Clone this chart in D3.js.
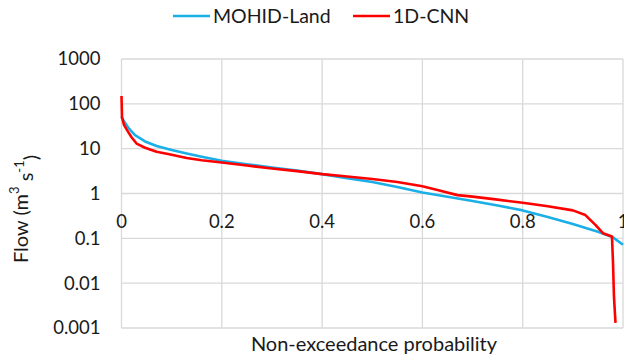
<!DOCTYPE html>
<html>
<head>
<meta charset="utf-8">
<script src="https://cdnjs.cloudflare.com/ajax/libs/d3/7.8.5/d3.min.js"></script>
<style>
  body { margin: 0; background: #fff; }
  svg { display: block; font-family: Lato, "Open Sans", sans-serif; }
</style>
</head>
<body>
<div id="chart"></div>
<script>
// flow duration curves
const seriesNames = ["MOHID-Land", "1D-CNN"];
const seriesColors = ["#1aafe6", "#ff0000"];

const mohidP = [0, 0.003, 0.007, 0.015, 0.027, 0.047, 0.07, 0.1, 0.13, 0.16, 0.2, 0.25, 0.3, 0.35, 0.4, 0.45, 0.5, 0.55, 0.6, 0.65, 0.7, 0.75, 0.8, 0.85, 0.9, 0.95, 0.98, 1.0];
const mohidQ = [52, 44, 38, 28, 20, 14.5, 11.5, 9.3, 7.8, 6.6, 5.4, 4.5, 3.8, 3.25, 2.7, 2.2, 1.8, 1.4, 1.05, 0.85, 0.68, 0.54, 0.42, 0.3, 0.21, 0.14, 0.105, 0.072];

const cnnP = [0, 0.001, 0.005, 0.012, 0.02, 0.03, 0.047, 0.07, 0.1, 0.13, 0.16, 0.2, 0.25, 0.3, 0.35, 0.4, 0.45, 0.5, 0.55, 0.6, 0.63, 0.67, 0.7, 0.75, 0.8, 0.85, 0.9, 0.925, 0.945, 0.96, 0.978, 0.98, 0.982, 0.985];
const cnnQ = [150, 50, 34, 25, 18, 13, 10.5, 8.5, 7.3, 6.2, 5.5, 4.9, 4.2, 3.6, 3.15, 2.7, 2.4, 2.1, 1.8, 1.45, 1.2, 0.92, 0.85, 0.73, 0.62, 0.52, 0.42, 0.33, 0.2, 0.13, 0.11, 0.03, 0.005, 0.0013];

const xTicks = [0, 0.2, 0.4, 0.6, 0.8, 1];
const yTicks = [0.001, 0.01, 0.1, 1, 10, 100, 1000];

const W = 624, H = 357;
const margin = {top: 59, right: 1, bottom: 29, left: 121.5};
const width = W - margin.left - margin.right;
const height = H - margin.top - margin.bottom;

const svg = d3.select("#chart").append("svg")
  .attr("width", W)
  .attr("height", H);

const g = svg.append("g")
  .attr("transform", "translate(" + margin.left + "," + margin.top + ")");

const x = d3.scaleLinear().domain([0, 1]).range([0, width]);
const y = d3.scaleLog().domain([0.001, 1000]).range([height, 0]);

// gridlines
g.append("g").selectAll("line").data(yTicks).join("line")
  .attr("x1", 0).attr("x2", width)
  .attr("y1", d => y(d)).attr("y2", d => y(d))
  .attr("stroke", "#d9d9d9").attr("stroke-width", 1.3);

g.append("g").selectAll("line").data(xTicks).join("line")
  .attr("x1", d => x(d)).attr("x2", d => x(d))
  .attr("y1", 0).attr("y2", height)
  .attr("stroke", "#d9d9d9").attr("stroke-width", 1.3);

// y labels
g.append("g").selectAll("text").data(yTicks).join("text")
  .attr("x", -21)
  .attr("y", d => y(d))
  .attr("dy", "0.35em")
  .attr("text-anchor", "end")
  .attr("font-size", 18.5)
  .attr("fill", "#1a1a1a")
  .text(d => d3.format("~g")(d));

// x labels sit under the y=1 line (Excel crossing)
g.append("g").selectAll("text").data(xTicks).join("text")
  .attr("x", d => x(d))
  .attr("y", y(1) + 28)
  .attr("dy", "0.35em")
  .attr("text-anchor", "middle")
  .attr("font-size", 18.5)
  .attr("fill", "#1a1a1a")
  .text(d => d3.format("~g")(d));

// curves
const line = d3.line()
  .x(d => x(d.p))
  .y(d => y(d.q));

const mohid = mohidP.map((p, i) => ({p: p, q: mohidQ[i]}));
const cnn = cnnP.map((p, i) => ({p: p, q: cnnQ[i]}));

[mohid, cnn].forEach((data, i) => {
  g.append("path")
    .datum(data)
    .attr("fill", "none")
    .attr("stroke", seriesColors[i])
    .attr("stroke-width", 2.6)
    .attr("stroke-linejoin", "round")
    .attr("d", line);
});

// axis titles
svg.append("text")
  .attr("x", 374)
  .attr("y", 351)
  .attr("text-anchor", "middle")
  .attr("font-size", 20)
  .attr("fill", "#1a1a1a")
  .text("Non-exceedance probability");

const yt = svg.append("text")
  .attr("transform", "translate(21,209) rotate(-90)")
  .attr("dy", "0.35em")
  .attr("text-anchor", "middle")
  .attr("font-size", 20)
  .attr("fill", "#1a1a1a");
yt.append("tspan").text("Flow (m");
yt.append("tspan").attr("font-size", 13).attr("dy", "-0.7em").text("3");
yt.append("tspan").attr("dy", "0.7em").text(" s");
yt.append("tspan").attr("font-size", 13).attr("dy", "-0.7em").text("-1");
yt.append("tspan").attr("dy", "0.7em").text(")");

// legend
const legendX = [173, 353];
const lg = svg.append("g").selectAll("g").data(seriesNames).join("g")
  .attr("transform", (d, i) => "translate(" + legendX[i] + ",16)");
lg.append("line")
  .attr("x1", 0).attr("x2", 37)
  .attr("stroke", (d, i) => seriesColors[i])
  .attr("stroke-width", 2.6);
lg.append("text")
  .attr("x", 40)
  .attr("dy", "0.35em")
  .attr("font-size", 19.5)
  .attr("fill", "#1a1a1a")
  .text(d => d);
</script>
</body>
</html>
